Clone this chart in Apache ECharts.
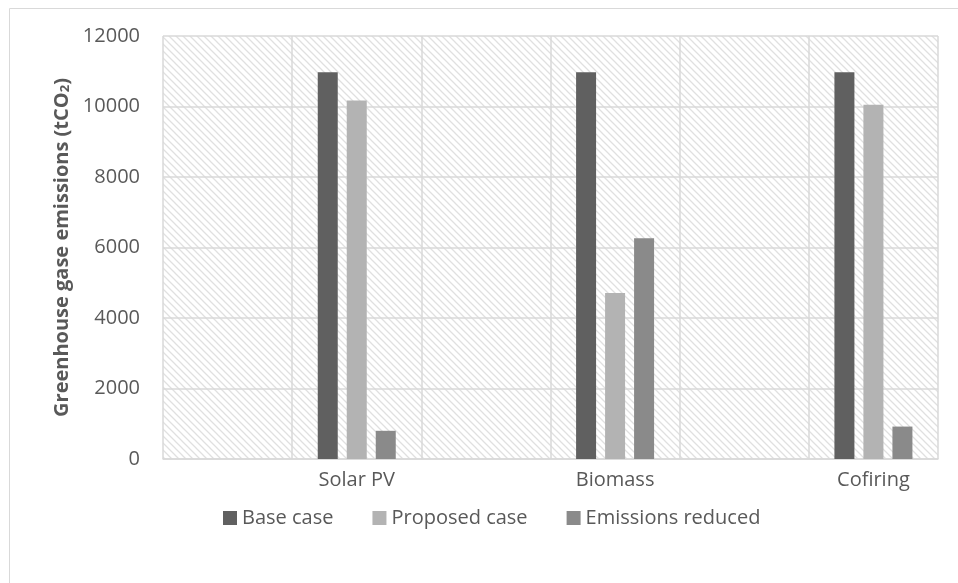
<!DOCTYPE html>
<html>
<head>
<meta charset="utf-8">
<script src="https://cdn.jsdelivr.net/npm/echarts@6/dist/echarts.min.js"></script>
<style>
  html, body { margin: 0; padding: 0; background: #ffffff; }
  #chart { width: 958px; height: 583px; }
</style>
</head>
<body>
<div id="chart"></div>
<script>
// Technologies, each followed by an empty slot on the category axis
const technologies = ['Solar PV', 'Biomass', 'Cofiring'];
const baseCase = [10970, 10970, 10970];
const proposedCase = [10170, 4710, 10050];
const emissionsReduced = [800, 6260, 920];
const seriesNames = ['Base case', 'Proposed case', 'Emissions reduced'];
const yTicks = [0, 2000, 4000, 6000, 8000, 10000, 12000];

// Each technology sits in the second slot of a pair: ['', 'Solar PV', '', 'Biomass', ...]
const slots = [];
technologies.forEach(t => { slots.push(''); slots.push(t); });
function spread(values) {
  const out = [];
  values.forEach(v => { out.push(null); out.push(v); });
  return out;
}

// Light downward-diagonal hatch used as the plot background
function hatch() {
  const n = 7;
  const c = document.createElement('canvas');
  c.width = n; c.height = n;
  const g = c.getContext('2d');
  g.fillStyle = '#ffffff';
  g.fillRect(0, 0, n, n);
  g.strokeStyle = '#e0e0e0';
  g.lineWidth = 1.3;
  g.beginPath();
  for (let k = -1; k <= 1; k++) {
    g.moveTo(k * n - 2, -2);
    g.lineTo(k * n + n + 2, n + 2);
  }
  g.stroke();
  return c;
}

const textColor = '#595959';
const gridColor = '#d9d9d9';
const fontFamily = 'Open Sans';
const colors = ['#606060', '#b3b3b3', '#8a8a8a'];
const values = [baseCase, proposedCase, emissionsReduced];

const chart = echarts.init(document.getElementById('chart'), null, { renderer: 'canvas' });
chart.setOption({
  animation: false,
  color: colors,
  graphic: [{
    type: 'rect',
    left: 7, top: 6,
    shape: { width: 949, height: 575 },
    style: { fill: 'none', stroke: gridColor, lineWidth: 1 },
    silent: true
  }],
  grid: {
    left: 163, top: 36, right: 20, bottom: 124,
    show: true,
    borderWidth: 0,
    backgroundColor: { image: hatch(), repeat: 'repeat' }
  },
  legend: {
    top: 503,
    left: 218,
    icon: 'rect',
    itemWidth: 14,
    itemHeight: 14,
    itemGap: 39,
    data: seriesNames,
    textStyle: { color: textColor, fontSize: 20, fontFamily: fontFamily }
  },
  xAxis: {
    type: 'category',
    data: slots,
    boundaryGap: true,
    axisLine: { show: true, lineStyle: { color: gridColor, width: 1.5 } },
    axisTick: { show: false },
    splitLine: { show: true, interval: 0, lineStyle: { color: gridColor, width: 1.5 } },
    axisLabel: { interval: 0, margin: 11, color: textColor, fontSize: 20, fontFamily: fontFamily }
  },
  yAxis: {
    type: 'value',
    min: yTicks[0],
    max: yTicks[yTicks.length - 1],
    interval: yTicks[1] - yTicks[0],
    axisLine: { show: false },
    axisTick: { show: false },
    splitLine: { show: true, lineStyle: { color: gridColor, width: 1.5 } },
    axisLabel: {
      margin: 23, color: textColor, fontSize: 20, fontFamily: fontFamily,
      formatter: v => String(v)
    },
    name: '{a|Greenhouse gase emissions (tCO}{s|2}{a|)}',
    nameLocation: 'middle',
    nameRotate: 90,
    nameGap: 88,
    nameTextStyle: {
      rich: {
        a: { color: textColor, fontSize: 20, fontWeight: 'bold', fontFamily: fontFamily, verticalAlign: 'bottom', lineHeight: 26 },
        s: { color: textColor, fontSize: 13, fontWeight: 'bold', fontFamily: fontFamily, verticalAlign: 'bottom', lineHeight: 18 }
      }
    }
  },
  series: seriesNames.map((name, i) => ({
    name: name,
    type: 'bar',
    data: spread(values[i]),
    barWidth: 20,
    barGap: '45%',
    itemStyle: { color: colors[i] }
  }))
});
</script>
</body>
</html>
